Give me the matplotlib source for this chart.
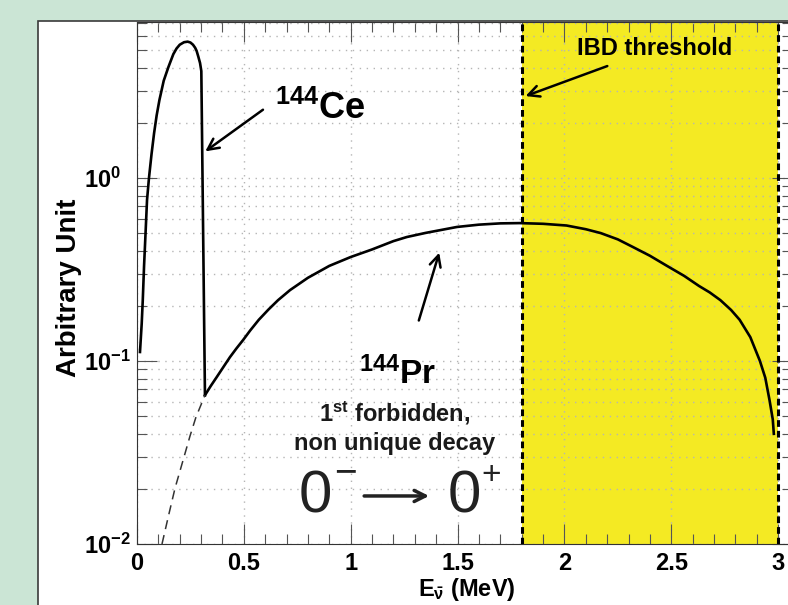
import numpy as np
import matplotlib
matplotlib.use("Agg")
import matplotlib.pyplot as plt
from matplotlib.patches import Rectangle
from matplotlib.ticker import FixedLocator, MultipleLocator, LogLocator, NullFormatter

plt.rcParams['font.family'] = ['Liberation Sans', 'DejaVu Sans']
plt.rcParams['mathtext.fontset'] = 'custom'
plt.rcParams['mathtext.rm'] = 'Liberation Sans'
plt.rcParams['mathtext.bf'] = 'Liberation Sans:bold'
plt.rcParams['mathtext.it'] = 'Liberation Sans:italic'

# 144Ce antineutrino spectrum
ce_energy = [0.014, 0.022, 0.027, 0.033, 0.040, 0.047, 0.056, 0.068, 0.080, 0.092,
             0.105, 0.125, 0.147, 0.170, 0.185, 0.200, 0.220, 0.237, 0.250, 0.262,
             0.272, 0.279, 0.287, 0.295, 0.301, 0.318]
ce_value = [0.112, 0.16, 0.215, 0.33, 0.50, 0.76, 1.0, 1.35, 1.76, 2.2,
            2.67, 3.4, 4.04, 4.75, 5.1, 5.35, 5.52, 5.56, 5.5, 5.35,
            5.15, 4.95, 4.6, 4.25, 3.84, 0.065]

# 144Pr spectrum above the Ce endpoint
pr_energy = [0.318, 0.345, 0.374, 0.405, 0.435, 0.465, 0.496, 0.530, 0.570, 0.615,
             0.660, 0.716, 0.800, 0.900, 1.000, 1.100, 1.200, 1.263, 1.350, 1.497,
             1.600, 1.700, 1.790, 1.900, 2.010, 2.100, 2.170, 2.250, 2.320, 2.400,
             2.480, 2.560, 2.630, 2.680, 2.730, 2.780, 2.820, 2.870, 2.915, 2.940,
             2.960, 2.975, 2.980]
pr_value = [0.065, 0.073, 0.082, 0.093, 0.105, 0.117, 0.130, 0.147, 0.168, 0.191,
            0.215, 0.244, 0.285, 0.331, 0.370, 0.407, 0.452, 0.476, 0.501, 0.540,
            0.556, 0.565, 0.567, 0.562, 0.550, 0.525, 0.500, 0.462, 0.420, 0.376,
            0.331, 0.292, 0.257, 0.237, 0.215, 0.190, 0.168, 0.135, 0.100, 0.081,
            0.061, 0.048, 0.040]

# 144Pr spectrum below the Ce endpoint (dashed)
pr_low_energy = [0.117, 0.147, 0.178, 0.220, 0.248, 0.276, 0.318]
pr_low_value = [0.010, 0.0142, 0.0202, 0.0299, 0.0389, 0.0494, 0.065]

ibd_threshold = 1.8
pr_endpoint = 3.0

x_ticks = [0, 0.5, 1, 1.5, 2, 2.5, 3]
x_ticklabels = ['0', '0.5', '1', '1.5', '2', '2.5', '3']
y_ticks = [1e-2, 1e-1, 1e0]
y_ticklabels = [r'$\mathbf{10^{-2}}$', r'$\mathbf{10^{-1}}$', r'$\mathbf{10^{0}}$']

W, H = 788, 605
fig = plt.figure(figsize=(W / 100, H / 100), dpi=100)
fig.patch.set_facecolor('#cbe5d5')
fig.patches.append(Rectangle((38 / W, -0.05), 1.0, 1 - 21 / H + 0.05,
                             transform=fig.transFigure, facecolor='white',
                             edgecolor='#3a3a3a', lw=1.2, zorder=-1))

left, right, top, bottom = 137, 792, 22, 544
ax = fig.add_axes([left / W, 1 - bottom / H, (right - left) / W, (bottom - top) / H])
ax.set_yscale('log')
ax.set_xlim(0, (right - left) / 213.7)
ax.set_ylim(0.01, 7.12)

ax.axvspan(ibd_threshold, pr_endpoint, color='#f4ea23', lw=0, zorder=0.5)
for xv in (ibd_threshold, pr_endpoint):
    ax.axvline(xv, color='black', lw=2.2, ls=(0, (2.2, 1.3)), zorder=3)

ax.plot(ce_energy, ce_value, color='black', lw=1.9, zorder=4, solid_joinstyle='round')
ax.plot(pr_energy, pr_value, color='black', lw=1.9, zorder=4, solid_joinstyle='round')
ax.plot(pr_low_energy, pr_low_value, color='#333333', lw=1.1, ls=(0, (6, 4)), zorder=4)

# ticks
ax.xaxis.set_major_locator(FixedLocator(x_ticks))
ax.set_xticklabels(x_ticklabels)
ax.xaxis.set_minor_locator(MultipleLocator(0.1))
ax.yaxis.set_major_locator(FixedLocator(y_ticks))
ax.set_yticklabels(y_ticklabels)
ax.yaxis.set_minor_locator(LogLocator(base=10, subs=np.arange(2, 10)))
ax.yaxis.set_minor_formatter(NullFormatter())
ax.tick_params(which='both', direction='in', top=True, right=True, color='#555555', width=0.8)
ax.tick_params(which='major', length=14.4)
ax.tick_params(which='minor', length=7.2)
ax.tick_params(axis='x', labelsize=17, pad=6)
ax.tick_params(axis='y', labelsize=17, pad=38)
plt.setp(ax.get_xticklabels(), fontweight='bold')
plt.setp(ax.get_yticklabels(), ha='left')

for sp in ax.spines.values():
    sp.set_color('#333333')
    sp.set_linewidth(0.8)

grid_style = dict(ls=(0, (1, 4)), color='#b5b5b5', lw=1.0)
ax.grid(True, which='major', axis='x', **grid_style)
ax.grid(True, which='both', axis='y', **grid_style)

ax.set_xlabel(r'$\mathbf{E_{\bar{\nu}}}$ (MeV)', fontsize=17, fontweight='bold')
ax.xaxis.set_label_coords(0.504, -0.062)
ax.set_ylabel('Arbitrary Unit', fontsize=20, fontweight='bold')
ax.yaxis.set_label_coords(-0.084, 0.49)

# annotations
arrow = dict(arrowstyle='->', lw=1.8, color='black', mutation_scale=20)
ax.text(0.646, 2.4, r'$\mathbf{^{144}Ce}$', fontsize=26, ha='left', va='center')
ax.annotate('', xy=(0.309, 1.37), xytext=(0.60, 2.41), arrowprops=arrow)

ax.text(2.42, 5.1, 'IBD threshold', fontsize=17, fontweight='bold', ha='center', va='center')
ax.annotate('', xy=(1.806, 2.77), xytext=(2.213, 4.14), arrowprops=arrow)

ax.text(1.22, 0.085, r'$\mathbf{^{144}Pr}$', fontsize=24, ha='center', va='center')
ax.annotate('', xy=(1.418, 0.404), xytext=(1.315, 0.161), arrowprops=arrow)

ax.text(1.205, 0.0515, r'1$^{\mathbf{st}}$ forbidden,', fontsize=17, fontweight='bold',
        ha='center', va='center', color='#1a1a1a')
ax.text(1.205, 0.0355, 'non unique decay', fontsize=17, fontweight='bold',
        ha='center', va='center', color='#1a1a1a')

ax.text(0.833, 0.0181, '0', fontsize=43, ha='center', va='center', color='#222222')
ax.text(0.978, 0.0245, '\u2212', fontsize=28, ha='center', va='center', color='#222222')
ax.annotate('', xy=(1.38, 0.0183), xytext=(1.05, 0.0183),
            arrowprops=dict(arrowstyle='->', lw=2.5, color='#222222', mutation_scale=20))
ax.text(1.530, 0.0181, '0', fontsize=43, ha='center', va='center', color='#222222')
ax.text(1.657, 0.0238, '+', fontsize=24, ha='center', va='center', color='#222222')

fig.savefig('out.png', dpi=100, facecolor=fig.get_facecolor())
